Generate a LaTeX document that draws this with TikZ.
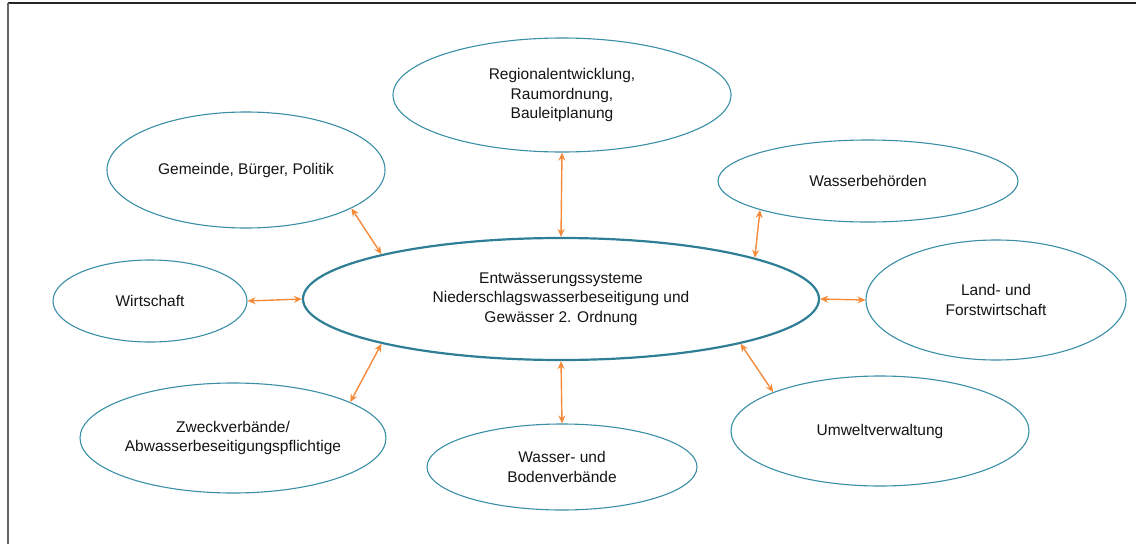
\documentclass[tikz,border=0pt]{standalone}
\usepackage{fontspec}
\setmainfont{Liberation Sans}
\usetikzlibrary{shapes.geometric,arrows.meta}
\definecolor{ovalline}{HTML}{3A8FA6}
\definecolor{coreline}{HTML}{2E7F96}
\definecolor{linkcol}{HTML}{F58B3A}
\definecolor{textcol}{HTML}{141414}
\begin{document}
\begin{tikzpicture}[x=1pt,y=-1pt,
  oval/.style={ellipse, draw=ovalline, line width=1.1pt, inner sep=0pt,
    text=textcol, align=center,
    font=\fontsize{15.5pt}{19.5pt}\selectfont},
  core/.style={oval, draw=coreline, line width=2.2pt},
  link/.style={draw=linkcol, line width=1.4pt,
    {Stealth[length=8pt,width=7pt]}-{Stealth[length=8pt,width=7pt]}}]
  \useasboundingbox (0,0) rectangle (1136,544);
  % frame along the top and left edge
  \draw[line width=2pt, black!85] (1136,2.5) -- (7.5,2.5);
  \draw[line width=2pt, black!60] (7.5,2.5) -- (7.5,544);

  % central topic
  \node[core, minimum width=516pt, minimum height=122pt] (c) at (561,299)
    {Entwässerungssysteme\\Niederschlagswasserbeseitigung und\\Gewässer 2. Ordnung};

  % surrounding stakeholders
  \node[oval, minimum width=338pt, minimum height=114pt] (reg) at (562,95)
    {Regionalentwicklung,\\Raumordnung,\\Bauleitplanung};
  \node[oval, minimum width=278pt, minimum height=116pt] (gem) at (246,170)
    {Gemeinde, Bürger, Politik};
  \node[oval, minimum width=300pt, minimum height=82pt] (wb) at (868,181)
    {Wasserbehörden};
  \node[oval, minimum width=194pt, minimum height=82pt] (wi) at (150,301)
    {Wirtschaft};
  \node[oval, minimum width=260pt, minimum height=120pt] (lf) at (996,300)
    {Land- und\\Forstwirtschaft};
  \node[oval, minimum width=306pt, minimum height=110pt] (zv) at (233,438)
    {Zweckverbände/\\Abwasserbeseitigungspflichtige};
  \node[oval, minimum width=270pt, minimum height=86pt] (bv) at (562,467)
    {Wasser- und\\Bodenverbände};
  \node[oval, minimum width=298pt, minimum height=110pt] (uv) at (880,431)
    {Umweltverwaltung};

  % two-way links
  \draw[link] (reg.south) -- (c.north);
  \draw[link] (gem.-20) -- (c.166.5);
  \draw[link] (wb.-165.7) -- (c.12.9);
  \draw[link] (wi.east) -- (c.west);
  \draw[link] (c.east) -- (lf.west);
  \draw[link] (c.-166.5) -- (zv.17);
  \draw[link] (c.-14.5) -- (uv.160.8);
  \draw[link] (c.south) -- (bv.north);
\end{tikzpicture}
\end{document}
